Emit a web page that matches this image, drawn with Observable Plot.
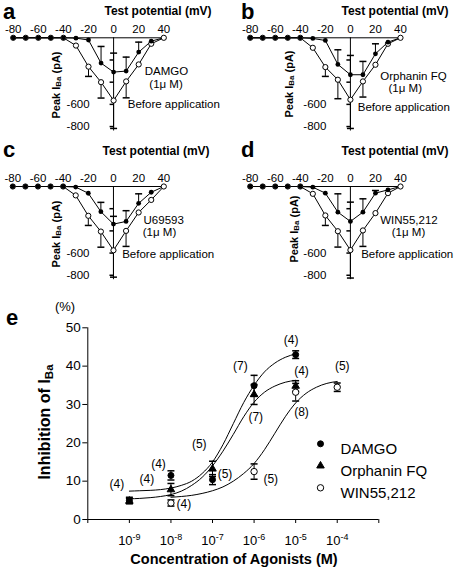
<!DOCTYPE html>
<html>
<head>
<meta charset="utf-8">
<script src="https://cdn.jsdelivr.net/npm/d3@7"></script>
<script src="https://cdn.jsdelivr.net/npm/@observablehq/plot@0.6"></script>
<style>
html,body{margin:0;padding:0;background:#fff;}
#fig{position:relative;width:457px;height:569px;overflow:hidden;background:#fff;color:#000;font-family:"Liberation Sans",Arial,Helvetica,sans-serif;}
#fig .t{position:absolute;white-space:nowrap;line-height:1;}
#fig svg{position:absolute;}
#fig sub{font-size:0.72em;vertical-align:-0.22em;line-height:0;}
</style>
</head>
<body>
<div id="fig"></div>
<script>
// ---------- Panels a-d : I-V relations ----------
const voltages = [-80,-70,-60,-50,-40,-30,-20,-10,0,10,20,30,40];
const ivTicks = [-80,-60,-40,-20,0,20,40];
const currentTicks = [-200,-400,-600,-800];
const currentLabels = [-600,-800];

const beforeA = [0,0,0,0,0,-70,-260,-400,-565,-393,-240,-54,0];
const beforeErrA = [0,0,0,0,0,0,88,143,252,148,0,0,0];
const damgoIV = [0,0,0,0,0,-3,-20,-228,-309,-300,-129,-30,0];
const damgoErrIV = [0,0,0,0,0,0,0,150,171,126,90,0,0];

const beforeB = [0,0,0,0,0,-90,-264,-378,-558,-393,-243,-54,0];
const beforeErrB = [0,0,0,0,0,0,84,171,259,141,0,0,0];
const orphaninIV = [0,0,0,0,0,-6,-24,-240,-333,-333,-144,-39,0];
const orphaninErrIV = [0,0,0,0,0,0,0,132,174,120,90,0,0];

const beforeC = [0,0,0,0,0,-80,-264,-406,-575,-400,-234,-121,0];
const beforeErrC = [0,0,0,0,0,0,87,141,242,140,0,0,0];
const u69593IV = [0,0,0,0,0,-5,-61,-227,-339,-315,-152,-52,0];
const u69593ErrIV = [0,0,0,0,0,0,0,84,70,97,86,0,0];

const beforeD = [0,0,0,0,0,-66,-261,-403,-573,-396,-240,-60,0];
const beforeErrD = [0,0,0,0,0,0,90,143,252,144,0,0,0];
const win55IV = [0,0,0,0,0,-6,-60,-231,-315,-231,-60,-30,0];
const win55ErrIV = [0,0,0,0,0,0,0,165,174,120,24,0,0];

// ---------- Panel e : concentration-response ----------
const concentrations = [1e-9,1e-8,1e-7,1e-6,1e-5,1e-4];
const damgoMean    = [5.0, 11.5, 10.4, 34.9, 43.0, null];
const damgoSem     = [0.8, 1.2, 1.3, 2.7, 1.0, null];
const orphaninMean = [4.8, 7.8, 13.2, 32.6, 34.8, null];
const orphaninSem  = [0.7, 1.6, 2.0, 2.6, 1.4, null];
const win55Mean    = [null, 4.3, null, 12.5, 33.2, 34.5];
const win55Sem     = [null, 0.8, null, 2.0, 2.3, 1.1];

const fitLogConcAgonist = [-9,-8.75,-8.5,-8.25,-8,-7.75,-7.5,-7.25,-7,-6.75,-6.5,-6.25,-6,-5.75,-5.5,-5.25,-5];
const damgoFit    = [7.4,7.5,7.6,7.8,8.2,8.9,10.0,12.0,15.0,19.5,25.0,30.5,35.0,38.5,40.8,42.3,43.2];
const orphaninFit = [5.4,5.5,5.7,6.0,6.5,7.4,8.9,11.0,14.0,17.8,22.2,26.8,30.6,33.2,34.8,35.8,36.3];
const fitLogConcWin = [-8,-7.75,-7.5,-7.25,-7,-6.75,-6.5,-6.25,-6,-5.75,-5.5,-5.25,-5,-4.75,-4.5,-4.25,-4];
const win55Fit    = [5.8,6.0,6.3,6.8,7.5,8.5,10.0,12.0,14.6,18.2,22.5,26.8,30.4,32.9,34.5,35.5,36.0];

const nLabelLogConc = [-9.30,-8.58,-8.30,-7.32,-6.70,-7.69,-5.60,-5.11,-6.33,-4.86,-3.88,-5.96,-4.86];
const nLabelValue   = [9.3,10.6,14.5,19.7,11.9,3.9,10.6,46.7,39.9,38.6,39.9,26.7,28.0];
const nLabelText    = ["(4)","(4)","(4)","(5)","(5)","(4)","(5)","(4)","(7)","(4)","(5)","(7)","(8)"];

const xTickValues = [1e-10,1e-9,1e-8,1e-7,1e-6,1e-5,1e-4,1e-3];
const yTickValues = [0,10,20,30,40,50];

// ---------- helpers ----------
const FONT = '"Liberation Sans", Arial, Helvetica, sans-serif';
const fig = document.getElementById("fig");
const capSym = {draw(ctx, size){ const w = Math.sqrt(size); ctx.moveTo(-w,0); ctx.lineTo(w,0); }};
const leftTickSym = {draw(ctx, size){ const w = Math.sqrt(size); ctx.moveTo(-w,0); ctx.lineTo(0,0); }};

function place(svg, left, top) {
  svg.style.left = left + "px";
  svg.style.top = top + "px";
  fig.appendChild(svg);
}
function addText(html, x, baseline, fs, bold, anchor) {
  const d = document.createElement("div");
  d.className = "t";
  d.innerHTML = html;
  d.style.fontSize = fs + "px";
  d.style.fontWeight = bold ? "bold" : "normal";
  d.style.left = x + "px";
  d.style.top = (baseline - 0.8465 * fs) + "px";
  if (anchor === "middle") d.style.transform = "translateX(-50%)";
  fig.appendChild(d);
}
function addVText(html, cx, cy, fs, bold) {
  const d = document.createElement("div");
  d.className = "t";
  d.innerHTML = html;
  d.style.fontSize = fs + "px";
  d.style.fontWeight = bold ? "bold" : "normal";
  d.style.left = cx + "px";
  d.style.top = cy + "px";
  d.style.transform = "translate(-50%,-50%) rotate(-90deg)";
  fig.appendChild(d);
}

function ivPanel(p) {
  const rows = voltages.map((v, i) => ({v, ctl: p.control[i], drug: p.drug[i], ce: p.controlErr[i], de: p.drugErr[i]}));
  const ctlErr = rows.filter(d => d.ce > 0);
  const drugErr = rows.filter(d => d.de > 0);
  const drugPts = rows.filter(d => d.v <= 30);
  const svg = Plot.plot({
    width: 228, height: p.h,
    marginLeft: p.ml, marginRight: p.mr, marginTop: p.mt, marginBottom: p.mb,
    x: {domain: [-80, 40], axis: null},
    y: {domain: [-840, 0], axis: null},
    style: {fontFamily: FONT, fontSize: "11px", background: "none", overflow: "visible", color: "black"},
    marks: [
      Plot.ruleY([0], {stroke: "black"}),
      Plot.ruleX([0], {stroke: "black"}),
      Plot.dot(currentTicks, {x: 0, y: d => d, symbol: leftTickSym, r: 2.26, stroke: "black", fill: "none"}),
      Plot.text(currentLabels, {x: 0, y: d => d, text: d => String(d), textAnchor: "end", dx: -24, fontSize: 11.5}),
      Plot.text(ivTicks, {x: d => d, y: 0, text: d => String(d), dy: -8, fontSize: 11.5}),
      Plot.ruleX(ctlErr, {x: "v", y1: "ctl", y2: d => d.ctl - d.ce, stroke: "black"}),
      Plot.dot(ctlErr, {x: "v", y: d => d.ctl - d.ce, symbol: capSym, r: 1.97, stroke: "black", fill: "none"}),
      Plot.ruleX(drugErr, {x: "v", y1: "drug", y2: d => d.drug + d.de, stroke: "black"}),
      Plot.dot(drugErr, {x: "v", y: d => d.drug + d.de, symbol: capSym, r: 1.97, stroke: "black", fill: "none"}),
      Plot.line(rows, {x: "v", y: "ctl", stroke: "black", strokeWidth: 1}),
      Plot.line(rows, {x: "v", y: "drug", stroke: "black", strokeWidth: 1}),
      Plot.dot(rows, {x: "v", y: "ctl", r: 2.6, fill: "white", stroke: "black", strokeWidth: 1}),
      Plot.dot(drugPts, {x: "v", y: "drug", r: 2.4, fill: "black"}),
      Plot.text([p.notes[0], p.notes[2]], {x: "x", y: "y", text: "text", textAnchor: "start", fontSize: 11.5}),
      Plot.text([p.notes[1]], {x: "x", y: "y", text: "text", textAnchor: "middle", fontSize: 11.5})
    ]
  });
  place(svg, p.left, p.top);
}

const panels = [
  {left: 0, top: 0, h: 140, ml: 12.7, mr: 64.7, mt: 37.3, mb: 9.5,
   control: beforeA, controlErr: beforeErrA, drug: damgoIV, drugErr: damgoErrIV,
   notes: [{x: 24.8, y: -300, text: "DAMGO"}, {x: 41.8, y: -418, text: "(1\u03bc M)"}, {x: 11.3, y: -601, text: "Before application"}]},
  {left: 228, top: 0, h: 140, ml: 21.7, mr: 56, mt: 37.3, mb: 9.5,
   control: beforeB, controlErr: beforeErrB, drug: orphaninIV, drugErr: orphaninErrIV,
   notes: [{x: 23.8, y: -345, text: "Orphanin FQ"}, {x: 43.8, y: -455, text: "(1\u03bc M)"}, {x: 5.9, y: -626, text: "Before application"}]},
  {left: 0, top: 140, h: 150, ml: 12.3, mr: 64.7, mt: 46, mb: 10.8,
   control: beforeC, controlErr: beforeErrC, drug: u69593IV, drugErr: u69593ErrIV,
   notes: [{x: 23.9, y: -303, text: "U69593"}, {x: 36.6, y: -416, text: "(1\u03bc M)"}, {x: 6.9, y: -607, text: "Before application"}]},
  {left: 228, top: 140, h: 150, ml: 21.7, mr: 56, mt: 46, mb: 10.8,
   control: beforeD, controlErr: beforeErrD, drug: win55IV, drugErr: win55ErrIV,
   notes: [{x: 23.8, y: -303, text: "WIN55,212"}, {x: 46.4, y: -416, text: "(1\u03bc M)"}, {x: 8.6, y: -607, text: "Before application"}]}
];
panels.forEach(ivPanel);

// ---------- panel e ----------
const eSeries = [
  {name: "DAMGO", mean: damgoMean, sem: damgoSem, symbol: "circle", fill: "black", r: 3},
  {name: "Orphanin FQ", mean: orphaninMean, sem: orphaninSem, symbol: "triangle", fill: "black", r: 2.8},
  {name: "WIN55,212", mean: win55Mean, sem: win55Sem, symbol: "circle", fill: "white", r: 3.2}
];
const fitRows = (lc, vals) => lc.map((l, i) => ({c: Math.pow(10, l), v: vals[i]}));
const nLabels = nLabelText.map((t, i) => ({c: Math.pow(10, nLabelLogConc[i]), v: nLabelValue[i], t}));

const eMarks = [
  Plot.ruleY([0], {stroke: "black"}),
  Plot.ruleX([1e-10], {stroke: "black"}),
  Plot.axisY(yTickValues, {anchor: "left", tickSize: 5, tickPadding: 2, fontSize: 13.5, tickFormat: d => String(d), label: null}),
  Plot.axisX(xTickValues, {anchor: "bottom", tickSize: 4, tickPadding: 12, fontSize: 13,
    tickFormat: d => { const e = Math.round(Math.log10(d)); return (e >= -9 && e <= -4) ? "10^" + e : ""; }, label: null}),
  Plot.line(fitRows(fitLogConcAgonist, damgoFit), {x: "c", y: "v", curve: "monotone-x", stroke: "black", strokeWidth: 1}),
  Plot.line(fitRows(fitLogConcAgonist, orphaninFit), {x: "c", y: "v", curve: "monotone-x", stroke: "black", strokeWidth: 1}),
  Plot.line(fitRows(fitLogConcWin, win55Fit), {x: "c", y: "v", curve: "monotone-x", stroke: "black", strokeWidth: 1})
];
eSeries.forEach(s => {
  const rows = concentrations.map((c, i) => ({c, m: s.mean[i], e: s.sem[i]})).filter(d => d.m != null);
  eMarks.push(
    Plot.ruleX(rows, {x: "c", y1: d => d.m - d.e, y2: d => d.m + d.e, stroke: "black"}),
    Plot.dot(rows, {x: "c", y: d => d.m - d.e, symbol: capSym, r: 1.97, stroke: "black", fill: "none"}),
    Plot.dot(rows, {x: "c", y: d => d.m + d.e, symbol: capSym, r: 1.97, stroke: "black", fill: "none"}),
    Plot.dot(rows, {x: "c", y: "m", symbol: s.symbol, r: s.r, fill: s.fill, stroke: "black", strokeWidth: 1})
  );
});
eMarks.push(Plot.text(nLabels, {x: "c", y: "v", text: "t", fontSize: 12}));
eSeries.forEach((s, i) => {
  eMarks.push(
    Plot.dot([s], {frameAnchor: "top-left", dx: 232.7, dy: 116 + i * 22, symbol: s.symbol, r: s.r, fill: s.fill, stroke: "black", strokeWidth: 1}),
    Plot.text([s], {frameAnchor: "top-left", dx: 252.7, dy: 116 + i * 22, text: "name", textAnchor: "start", fontSize: 15})
  );
});

const svgE = Plot.plot({
  width: 457, height: 279,
  marginLeft: 87.3, marginRight: 78.7, marginTop: 37.3, marginBottom: 50,
  x: {type: "log", domain: [1e-10, 1e-3], axis: null},
  y: {domain: [0, 50], axis: null},
  style: {fontFamily: FONT, fontSize: "12px", background: "none", overflow: "visible", color: "black"},
  marks: eMarks
});
// superscript exponents on the x tick labels
const NS = "http://www.w3.org/2000/svg";
svgE.querySelectorAll("text").forEach(t => {
  const m = (t.textContent || "").match(/^10\^(.+)$/);
  if (!m) return;
  const host = t.querySelector("tspan") || t;
  host.textContent = "";
  const a = document.createElementNS(NS, "tspan"); a.textContent = "10"; host.appendChild(a);
  const b = document.createElementNS(NS, "tspan"); b.textContent = m[1];
  b.setAttribute("dy", "-0.5em"); b.setAttribute("font-size", "9"); host.appendChild(b);
});
place(svgE, 0, 290);

// ---------- titles, letters, axis titles ----------
const IV_Y = 'Peak I<sub>Ba</sub> (pA)';
addText("a", 3, 19.5, 22, true);
addText("b", 241, 19.5, 22, true);
addText("c", 3, 158, 22, true);
addText("d", 241, 158, 22, true);
addText("e", 6, 326, 22, true);
addText("Test potential (mV)", 158, 15.5, 12, true, "middle");
addText("Test potential (mV)", 395, 15.5, 12, true, "middle");
addText("Test potential (mV)", 156, 155, 12, true, "middle");
addText("Test potential (mV)", 395, 155, 12, true, "middle");
addVText(IV_Y, 56, 85, 11, true);
addVText(IV_Y, 289, 84, 11, true);
addVText(IV_Y, 56, 234, 11, true);
addVText(IV_Y, 294, 229, 11, true);
addText("(%)", 65, 311, 13, false, "middle");
addVText('Inhibition of I<sub>Ba</sub>', 45, 422, 16, true);
addText("Concentration of Agonists (M)", 234, 564, 14.5, true, "middle");
</script>
</body>
</html>
